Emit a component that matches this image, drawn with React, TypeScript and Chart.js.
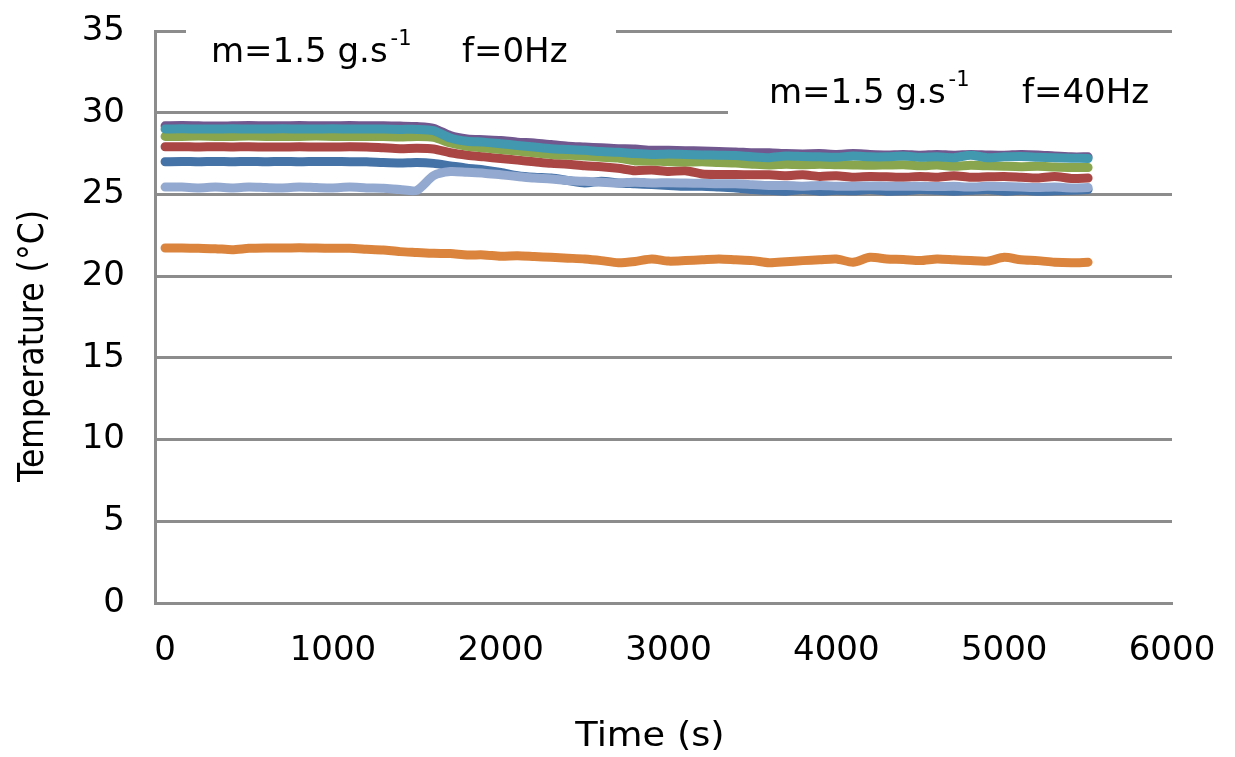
import React, { useEffect, useRef } from 'react';
import { Chart, registerables } from 'chart.js';

Chart.register(...registerables);

// ---- Data ----
const timeS = [
  0, 100, 200, 300, 400, 500, 600, 700, 800, 900,
  1000, 1100, 1200, 1300, 1400, 1500, 1600, 1700, 1800, 1900,
  2000, 2100, 2200, 2300, 2400, 2500, 2600, 2700, 2800, 2900,
  3000, 3100, 3200, 3300, 3400, 3500, 3600, 3700, 3800, 3900,
  4000, 4100, 4200, 4300, 4400, 4500, 4600, 4700, 4800, 4900,
  5000, 5100, 5200, 5300, 5400, 5500,
];

const xTickValues = [0, 1000, 2000, 3000, 4000, 5000, 6000];
const yTickValues = [0, 5, 10, 15, 20, 25, 30, 35];

const tBlue = [
  27.0, 27.02, 27.0, 27.02, 27.0, 27.02, 27.0, 27.02, 27.0, 27.02,
  27.02, 27.0, 27.0, 26.95, 26.92, 26.95, 26.9, 26.75, 26.6, 26.5,
  26.35, 26.15, 26.05, 26.0, 25.85, 25.7, 25.8, 25.7, 25.65, 25.6,
  25.55, 25.5, 25.5, 25.45, 25.4, 25.3, 25.25, 25.2, 25.3, 25.2,
  25.25, 25.22, 25.3, 25.2, 25.22, 25.3, 25.25, 25.2, 25.25, 25.3,
  25.2, 25.25, 25.2, 25.22, 25.25, 25.3,
];
const tRed = [
  27.92, 27.92, 27.9, 27.92, 27.9, 27.92, 27.9, 27.9, 27.92, 27.9,
  27.9, 27.92, 27.9, 27.85, 27.8, 27.82, 27.78, 27.55, 27.4, 27.3,
  27.2, 27.1, 27.0, 26.9, 26.85, 26.75, 26.7, 26.6, 26.45, 26.5,
  26.4, 26.45, 26.25, 26.22, 26.22, 26.2, 26.2, 26.15, 26.2, 26.1,
  26.15, 26.05, 26.1, 26.08, 26.05, 26.1, 26.05, 26.15, 26.05, 26.08,
  26.1, 26.05, 26.0, 26.1, 25.98, 26.0,
];
const tGreen = [
  28.55, 28.55, 28.57, 28.55, 28.55, 28.57, 28.55, 28.55, 28.55, 28.57,
  28.55, 28.55, 28.55, 28.55, 28.52, 28.55, 28.5, 28.15, 27.95, 27.85,
  27.75, 27.65, 27.55, 27.45, 27.4, 27.35, 27.28, 27.22, 27.05, 27.05,
  27.0, 26.98, 27.0, 26.95, 26.92, 26.85, 26.8, 26.85, 26.82, 26.85,
  26.82, 26.8, 26.78, 26.8, 26.82, 26.75, 26.8, 26.72, 26.78, 26.75,
  26.72, 26.7, 26.72, 26.68, 26.65, 26.65,
];
const tPurple = [
  29.2, 29.22, 29.2, 29.18, 29.2, 29.22, 29.2, 29.2, 29.22, 29.2,
  29.2, 29.22, 29.2, 29.2, 29.18, 29.15, 29.05, 28.6, 28.4, 28.35,
  28.3, 28.2, 28.15, 28.05, 27.95, 27.9, 27.85, 27.8, 27.78, 27.7,
  27.7, 27.68, 27.65, 27.62, 27.6, 27.55, 27.55, 27.5, 27.48, 27.5,
  27.45, 27.5, 27.45, 27.42, 27.45, 27.4, 27.45, 27.4, 27.45, 27.42,
  27.4, 27.45, 27.42, 27.35, 27.3, 27.3,
];
const tTeal = [
  29.0, 29.02, 29.0, 29.0, 29.02, 29.0, 29.0, 29.02, 29.0, 29.0,
  29.02, 29.0, 29.0, 29.0, 28.98, 28.98, 28.9, 28.45, 28.25, 28.2,
  28.1, 28.0, 27.9, 27.8, 27.75, 27.7, 27.62, 27.58, 27.5, 27.45,
  27.48, 27.45, 27.42, 27.4, 27.38, 27.3, 27.25, 27.35, 27.32, 27.3,
  27.28, 27.35, 27.3, 27.3, 27.35, 27.28, 27.3, 27.25, 27.4, 27.25,
  27.3, 27.32, 27.28, 27.25, 27.22, 27.2,
];
const tOrange = [
  21.72, 21.72, 21.7, 21.68, 21.62, 21.7, 21.72, 21.72, 21.73, 21.72,
  21.7, 21.7, 21.65, 21.6, 21.5, 21.45, 21.4, 21.38, 21.3, 21.3,
  21.22, 21.25, 21.2, 21.15, 21.1, 21.05, 20.95, 20.82, 20.9, 21.05,
  20.92, 20.95, 21.0, 21.05, 21.0, 20.95, 20.82, 20.88, 20.95, 21.0,
  21.05, 20.85, 21.15, 21.05, 21.02, 20.95, 21.05, 21.0, 20.95, 20.92,
  21.15, 21.0, 20.95, 20.85, 20.82, 20.85,
];
const tLightBlue = [
  25.45, 25.45, 25.4, 25.45, 25.4, 25.45, 25.42, 25.4, 25.45, 25.42,
  25.4, 25.45, 25.4, 25.38, 25.3, 25.25, 26.15, 26.4, 26.35, 26.3,
  26.2, 26.1, 26.0, 25.95, 25.85, 25.8, 25.75, 25.7, 25.75, 25.7,
  25.72, 25.7, 25.68, 25.65, 25.65, 25.6, 25.55, 25.55, 25.5, 25.55,
  25.5, 25.5, 25.52, 25.5, 25.5, 25.5, 25.48, 25.5, 25.45, 25.5,
  25.48, 25.45, 25.42, 25.45, 25.4, 25.42,
];

const seriesList = [
  { name: 'T1', values: tBlue, color: '#4572A7' },
  { name: 'T2', values: tRed, color: '#AA4643' },
  { name: 'T3', values: tGreen, color: '#89A54E' },
  { name: 'T4', values: tPurple, color: '#71588F' },
  { name: 'T5', values: tTeal, color: '#4198AF' },
  { name: 'T6', values: tOrange, color: '#DB843D' },
  { name: 'T7', values: tLightBlue, color: '#93A9CF' },
];

const annotations = [
  { main: 'm=1.5 g.s', sup: '-1', tail: 'f=0Hz' },
  { main: 'm=1.5 g.s', sup: '-1', tail: 'f=40Hz' },
];
const xTitle = 'Time (s)';
const yTitle = 'Temperature (°C)';

const GRID = '#8c8c8c';
const FONT = '"DejaVu Sans"';

function drawStretched(ctx: CanvasRenderingContext2D, text: string, x: number, y: number, sx: number) {
  ctx.save();
  ctx.translate(x, y);
  ctx.scale(sx, 1);
  ctx.fillText(text, 0, 0);
  ctx.restore();
}

const textPlugin = {
  id: 'refTexts',
  afterDraw(chart: any) {
    const ctx: CanvasRenderingContext2D = chart.ctx;
    ctx.save();
    // white label boxes (cover gridlines like the reference)
    ctx.fillStyle = '#ffffff';
    ctx.fillRect(186, 14, 430, 70);
    ctx.fillRect(728, 62, 507, 70);

    ctx.fillStyle = '#000000';
    ctx.textAlign = 'left';
    ctx.textBaseline = 'alphabetic';
    const boxes = [
      { x: 211, y: 62, tailX: 462 },
      { x: 769, y: 103, tailX: 1022 },
    ];
    const sx = 1.0;
    annotations.forEach((a, i) => {
      const b = boxes[i];
      ctx.font = `34px ${FONT}`;
      drawStretched(ctx, a.main, b.x, b.y, sx);
      const w = ctx.measureText(a.main).width * sx;
      ctx.font = `21px ${FONT}`;
      drawStretched(ctx, a.sup, b.x + w + 3, b.y - 17, sx);
      ctx.font = `34px ${FONT}`;
      drawStretched(ctx, a.tail, b.tailX, b.y, sx);
    });

    // x title
    ctx.font = `34px ${FONT}`;
    ctx.textAlign = 'center';
    drawStretched(ctx, xTitle, 650, 746, 1.08);

    // y title (rotated)
    ctx.save();
    ctx.translate(34, 346);
    ctx.rotate(-Math.PI / 2);
    ctx.scale(1, 1.12);
    ctx.font = `31.5px ${FONT}`;
    ctx.textAlign = 'center';
    ctx.textBaseline = 'middle';
    ctx.fillText(yTitle, 0, 0);
    ctx.restore();

    ctx.restore();
  },
};

export default function App() {
  const canvasRef = useRef<HTMLCanvasElement | null>(null);

  useEffect(() => {
    if (!canvasRef.current) return;
    const chart = new Chart(canvasRef.current, {
      type: 'line',
      data: {
        datasets: seriesList.map((s, i) => ({
          label: s.name,
          data: timeS.map((t, k) => ({ x: t, y: s.values[k] })),
          borderColor: s.color,
          backgroundColor: s.color,
          borderWidth: 9,
          pointRadius: 0,
          tension: 0.25,
          borderCapStyle: 'round',
          borderJoinStyle: 'round',
          fill: false,
          order: seriesList.length - i,
        })),
      },
      options: {
        animation: false,
        responsive: false,
        events: [],
        layout: { padding: { top: 31, right: 63, left: 0, bottom: 0 } },
        plugins: {
          legend: { display: false },
          tooltip: { enabled: false },
          title: { display: false },
        },
        scales: {
          x: {
            type: 'linear',
            min: -60,
            max: 6000,
            afterBuildTicks: (scale: any) => {
              scale.ticks = xTickValues.map((v) => ({ value: v }));
            },
            afterFit: (scale: any) => {
              scale.height = 154;
              scale.paddingLeft = 0;
              scale.paddingRight = 0;
            },
            grid: { display: false, drawTicks: false },
            border: { display: true, color: GRID, width: 3 },
            ticks: {
              color: '#000',
              font: { family: 'DejaVu Sans', size: 34 },
              padding: 28,
              maxRotation: 0,
              autoSkip: false,
              callback: (v: any) => String(v),
            },
          },
          y: {
            type: 'linear',
            min: 0,
            max: 35,
            afterBuildTicks: (scale: any) => {
              scale.ticks = yTickValues.map((v) => ({ value: v }));
            },
            afterFit: (scale: any) => {
              scale.width = 155;
              scale.paddingTop = 0;
              scale.paddingBottom = 0;
            },
            grid: { color: GRID, lineWidth: 3, drawTicks: false },
            border: { display: true, color: GRID, width: 3 },
            ticks: {
              color: '#000',
              font: { family: 'DejaVu Sans', size: 34 },
              padding: 30,
              autoSkip: false,
              callback: (v: any) => String(v),
            },
          },
        },
      },
      plugins: [textPlugin],
    } as any);
    return () => chart.destroy();
  }, []);

  return (
    <div style={{ position: 'fixed', left: 0, top: 0, width: 1235, height: 757, background: '#fff' }}>
      <canvas ref={canvasRef} width={1235} height={757} style={{ display: 'block' }} />
    </div>
  );
}
